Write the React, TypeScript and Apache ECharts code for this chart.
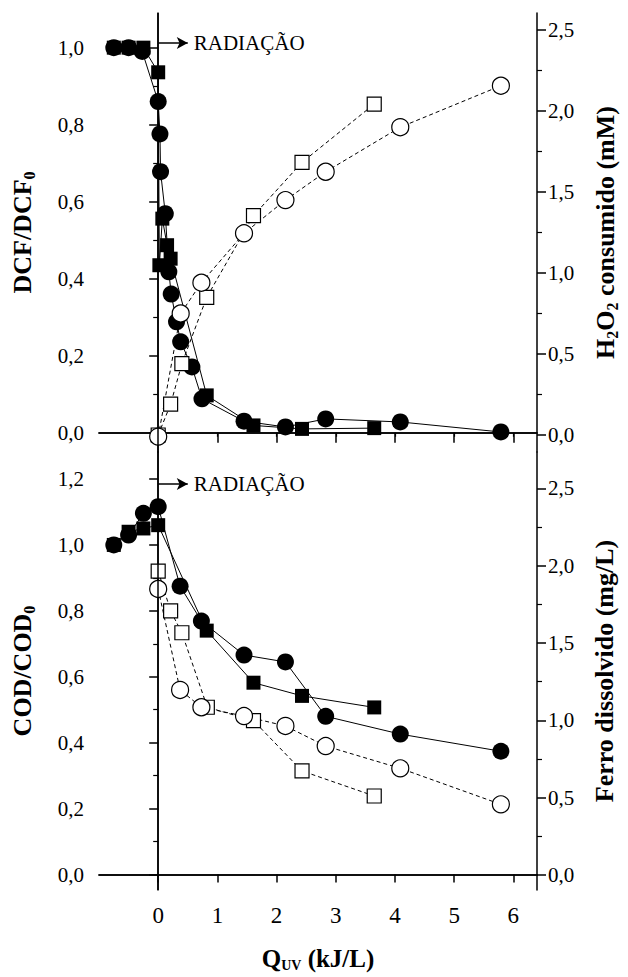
import React, { useEffect, useRef } from "react";
import * as echarts from "echarts";

const FONT = "Liberation Serif";

// ---- Upper panel: DCF decay (left axis) and H2O2 consumed (right axis) ----
const dcfCircleQ = [-0.75, -0.5, -0.27, 0, 0.03, 0.04, 0.12, 0.18, 0.22, 0.31, 0.38, 0.57, 0.74, 1.45, 2.15, 2.83, 4.09, 5.79];
const dcfCircleVal = [1.0, 1.0, 0.99, 0.86, 0.776, 0.678, 0.569, 0.418, 0.36, 0.288, 0.236, 0.171, 0.088, 0.03, 0.015, 0.036, 0.028, 0.002];

const dcfSquareQ = [-0.75, -0.5, -0.25, 0, 0.02, 0.07, 0.15, 0.21, 0.82, 1.61, 2.43, 3.65];
const dcfSquareVal = [1.0, 1.0, 1.0, 0.936, 0.435, 0.556, 0.487, 0.452, 0.097, 0.019, 0.01, 0.012];

const h2o2CircleQ = [0, 0.38, 0.73, 1.45, 2.15, 2.83, 4.09, 5.79];
const h2o2CircleVal = [-0.01, 0.75, 0.94, 1.245, 1.45, 1.625, 1.9, 2.156];

const h2o2SquareQ = [0, 0.21, 0.4, 0.82, 1.61, 2.43, 3.65];
const h2o2SquareVal = [0, 0.19, 0.44, 0.85, 1.354, 1.683, 2.043];

// ---- Lower panel: COD (left axis) and dissolved iron (right axis) ----
const codCircleQ = [-0.75, -0.5, -0.25, 0, 0.37, 0.73, 1.45, 2.15, 2.83, 4.09, 5.79];
const codCircleVal = [1.0, 1.03, 1.096, 1.116, 0.875, 0.769, 0.666, 0.645, 0.48, 0.426, 0.374];

const codSquareQ = [-0.75, -0.5, -0.25, 0, 0.82, 1.61, 2.43, 3.65];
const codSquareVal = [1.0, 1.04, 1.05, 1.06, 0.74, 0.582, 0.542, 0.507];

const feCircleQ = [0, 0.37, 0.73, 1.45, 2.15, 2.83, 4.09, 5.79];
const feCircleVal = [1.85, 1.197, 1.085, 1.028, 0.964, 0.834, 0.69, 0.457];

const feSquareQ = [0, 0.21, 0.4, 0.83, 1.61, 2.43, 3.65];
const feSquareVal = [1.966, 1.708, 1.567, 1.085, 0.998, 0.673, 0.511];

// ---- Tick values ----
const xTicks = [0, 1, 2, 3, 4, 5, 6];
const dcfTicks = [0, 0.2, 0.4, 0.6, 0.8, 1.0];
const dcfMinor = [0.1, 0.3, 0.5, 0.7, 0.9];
const codTicks = [0, 0.2, 0.4, 0.6, 0.8, 1.0, 1.2];
const codMinor = [0.1, 0.3, 0.5, 0.7, 0.9, 1.1];
const rightTicks = [0, 0.5, 1.0, 1.5, 2.0, 2.5];
const rightMinor = [0.25, 0.75, 1.25, 1.75, 2.25];

const arrowText = "RADIAÇÃO";

const pairs = (xs: number[], ys: number[]) => xs.map((x, i) => [x, ys[i]]);
const comma = (v: number) => v.toFixed(1).replace(".", ",");

const AXIS_LINE = { show: true, lineStyle: { color: "#000", width: 1.5 } };

const subRich = {
  b: { fontFamily: FONT, fontWeight: "bold", fontSize: 26, color: "#000" },
  s: { fontFamily: FONT, fontWeight: "bold", fontSize: 16, color: "#000", verticalAlign: "bottom", padding: [13, 0, 0, 0] },
};

function yMain(gridIndex: number, position: "left" | "right", min: number, max: number, ticks: number[], name: string, nameGap: number, margin: number) {
  return {
    type: "value",
    gridIndex,
    position,
    min,
    max,
    splitLine: { show: false },
    axisLine: AXIS_LINE,
    axisTick: { show: true, inside: false, length: 9, customValues: ticks, lineStyle: { color: "#000", width: 1.5 } },
    axisLabel: { show: true, customValues: ticks, formatter: comma, fontFamily: FONT, fontSize: 21, color: "#000", margin },
    name,
    nameLocation: "middle",
    nameRotate: 90,
    nameGap,
    nameTextStyle: { fontFamily: FONT, fontWeight: "bold", fontSize: 26, color: "#000", rich: subRich },
  };
}

function yMinor(gridIndex: number, position: "left" | "right", min: number, max: number, ticks: number[]) {
  return {
    type: "value",
    gridIndex,
    position,
    min,
    max,
    splitLine: { show: false },
    axisLine: { show: false },
    axisTick: { show: true, inside: false, length: 5, customValues: ticks, lineStyle: { color: "#000", width: 1.2 } },
    axisLabel: { show: false },
  };
}

function xAxisDef(gridIndex: number, position: "top" | "bottom", opts: any) {
  return {
    type: "value",
    gridIndex,
    position,
    min: -1,
    max: 6.4,
    splitLine: { show: false },
    axisLine: AXIS_LINE,
    ...opts,
  };
}

function filled(xAxisIndex: number, yAxisIndex: number, data: number[][], symbol: string, size: number, extra: any = {}) {
  return {
    type: "line",
    xAxisIndex,
    yAxisIndex,
    data,
    symbol,
    symbolSize: size,
    itemStyle: { color: "#000" },
    lineStyle: { color: "#000", width: 1 },
    z: 3,
    ...extra,
  };
}

function hollow(xAxisIndex: number, yAxisIndex: number, data: number[][], symbol: string, size: number) {
  return {
    type: "line",
    xAxisIndex,
    yAxisIndex,
    data,
    symbol,
    symbolSize: size,
    itemStyle: { color: "#fff", borderColor: "#000", borderWidth: 1.2 },
    lineStyle: { color: "#000", width: 1, type: [4, 3] },
    z: 4,
  };
}

const zeroLine = {
  markLine: {
    silent: true,
    symbol: "none",
    label: { show: false },
    lineStyle: { color: "#000", type: "solid", width: 1.5 },
    data: [{ xAxis: 0 }],
  },
};

function arrowMark(y: number) {
  return {
    markLine: {
      silent: true,
      symbol: ["none", "arrow"],
      symbolSize: [9, 11],
      lineStyle: { color: "#000", type: "solid", width: 1.5 },
      label: { show: true, position: "end", formatter: arrowText, fontFamily: FONT, fontSize: 21, color: "#000", distance: 6 },
      data: [[{ coord: [0, y] }, { coord: [0.5, y] }]],
    },
  };
}

export default function App() {
  const ref = useRef<HTMLDivElement>(null);

  useEffect(() => {
    if (!ref.current) return;
    const chart = echarts.init(ref.current, undefined, { renderer: "svg" });

    const option: any = {
      animation: false,
      backgroundColor: "#fff",
      textStyle: { fontFamily: FONT },
      grid: [
        { left: 99, top: 13, width: 438, height: 439, containLabel: false, outerBoundsMode: "none" },
        { left: 99, top: 452, width: 438, height: 438, containLabel: false, outerBoundsMode: "none" },
      ],
      xAxis: [
        xAxisDef(0, "bottom", {
          axisTick: { show: true, length: 10, customValues: xTicks, lineStyle: { color: "#000", width: 1.5 } },
          axisLabel: { show: false },
        }),
        xAxisDef(0, "top", {
          axisTick: { show: true, inside: true, length: 4, customValues: xTicks, lineStyle: { color: "#000", width: 1.2 } },
          axisLabel: { show: false },
        }),
        xAxisDef(1, "bottom", {
          axisTick: { show: true, length: 8, customValues: xTicks, lineStyle: { color: "#000", width: 1.5 } },
          axisLabel: { show: true, customValues: xTicks, fontFamily: FONT, fontSize: 23, color: "#000", margin: 14 },
          name: "{b|Q}{s|UV}{b| (kJ/L)}",
          nameLocation: "middle",
          nameGap: 54,
          nameTextStyle: { fontFamily: FONT, fontWeight: "bold", fontSize: 25, color: "#000", rich: {
            b: { fontFamily: FONT, fontWeight: "bold", fontSize: 25, color: "#000" },
            s: { fontFamily: FONT, fontWeight: "bold", fontSize: 14, color: "#000", verticalAlign: "bottom", padding: [14, 0, 0, 0] },
          } },
        }),
        xAxisDef(1, "top", {
          axisTick: { show: false },
          axisLabel: { show: false },
        }),
      ],
      yAxis: [
        yMain(0, "left", -0.05, 1.09, dcfTicks, "{b|DCF/DCF}{s|0}", 62, 15),
        yMinor(0, "left", -0.05, 1.09, dcfMinor),
        yMain(0, "right", -0.105, 2.605, rightTicks, "{b|H}{s|2}{b|O}{s|2}{b| consumido (mM)}", 54, 11),
        yMinor(0, "right", -0.105, 2.605, rightMinor),
        yMain(1, "left", -0.047, 1.282, codTicks, "{b|COD/COD}{s|0}", 62, 15),
        yMinor(1, "left", -0.047, 1.282, codMinor),
        yMain(1, "right", -0.097, 2.736, rightTicks, "{b|Ferro dissolvido (mg/L)}", 54, 11),
        yMinor(1, "right", -0.097, 2.736, rightMinor),
      ],
      series: [
        // upper panel
        filled(0, 0, pairs(dcfSquareQ, dcfSquareVal), "rect", 14, zeroLine),
        filled(0, 0, pairs(dcfCircleQ, dcfCircleVal), "circle", 17, arrowMark(1.012)),
        hollow(0, 2, pairs(h2o2SquareQ, h2o2SquareVal), "rect", 14),
        hollow(0, 2, pairs(h2o2CircleQ, h2o2CircleVal), "circle", 17),
        // lower panel
        filled(2, 4, pairs(codSquareQ, codSquareVal), "rect", 14, zeroLine),
        filled(2, 4, pairs(codCircleQ, codCircleVal), "circle", 17, arrowMark(1.185)),
        hollow(2, 6, pairs(feSquareQ, feSquareVal), "rect", 14),
        hollow(2, 6, pairs(feCircleQ, feCircleVal), "circle", 17),
      ],
    };

    chart.setOption(option);
    return () => chart.dispose();
  }, []);

  return (
    <div
      ref={ref}
      style={{ position: "fixed", left: 0, top: 0, width: 628, height: 977, background: "#fff" }}
    />
  );
}
